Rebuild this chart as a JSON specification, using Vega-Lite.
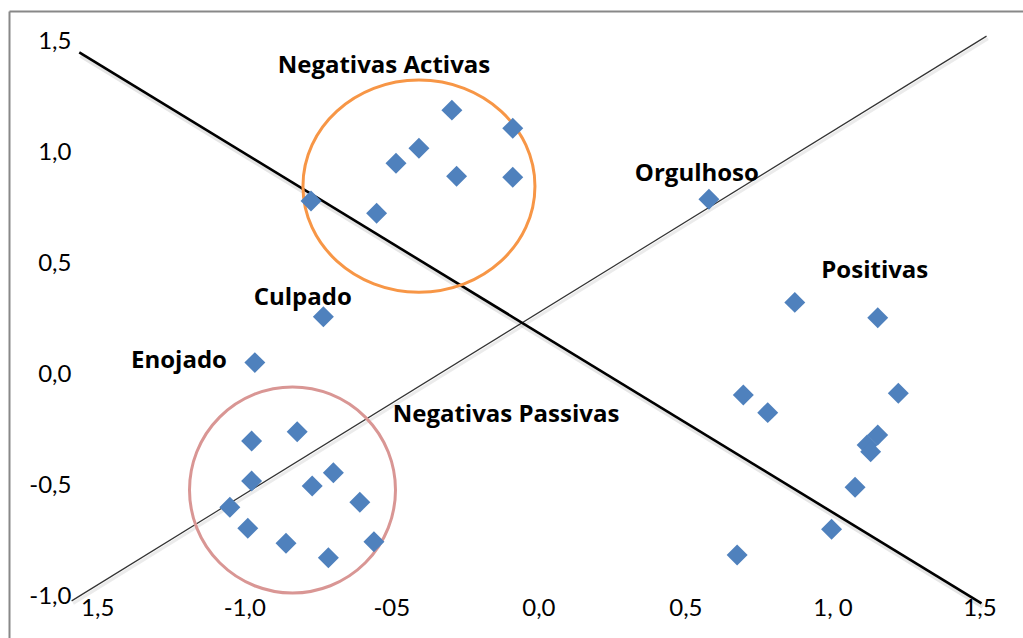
{
  "$schema": "https://vega.github.io/schema/vega-lite/v6.json",
  "width": 1014,
  "height": 627,
  "autosize": {"type": "none"},
  "padding": {"left": 9, "top": 11, "right": 0, "bottom": 0},
  "background": "white",
  "view": {"stroke": null},
  "datasets": {
    "points": [
      {"grupo": "Negativas Activas", "x": -0.294, "y": 1.190},
      {"grupo": "Negativas Activas", "x": -0.087, "y": 1.108},
      {"grupo": "Negativas Activas", "x": -0.406, "y": 1.018},
      {"grupo": "Negativas Activas", "x": -0.484, "y": 0.951},
      {"grupo": "Negativas Activas", "x": -0.278, "y": 0.893},
      {"grupo": "Negativas Activas", "x": -0.087, "y": 0.888},
      {"grupo": "Negativas Activas", "x": -0.773, "y": 0.781},
      {"grupo": "Negativas Activas", "x": -0.550, "y": 0.726},
      {"grupo": "Culpado", "x": -0.731, "y": 0.260},
      {"grupo": "Enojado", "x": -0.964, "y": 0.054},
      {"grupo": "Orgulhoso", "x": 0.580, "y": 0.789},
      {"grupo": "Negativas Passivas", "x": -0.975, "y": -0.299},
      {"grupo": "Negativas Passivas", "x": -0.820, "y": -0.257},
      {"grupo": "Negativas Passivas", "x": -0.975, "y": -0.479},
      {"grupo": "Negativas Passivas", "x": -0.697, "y": -0.441},
      {"grupo": "Negativas Passivas", "x": -0.769, "y": -0.501},
      {"grupo": "Negativas Passivas", "x": -1.049, "y": -0.597},
      {"grupo": "Negativas Passivas", "x": -0.607, "y": -0.574},
      {"grupo": "Negativas Passivas", "x": -0.988, "y": -0.691},
      {"grupo": "Negativas Passivas", "x": -0.858, "y": -0.759},
      {"grupo": "Negativas Passivas", "x": -0.714, "y": -0.824},
      {"grupo": "Negativas Passivas", "x": -0.559, "y": -0.752},
      {"grupo": "Positivas", "x": 0.872, "y": 0.325},
      {"grupo": "Positivas", "x": 1.154, "y": 0.256},
      {"grupo": "Positivas", "x": 0.697, "y": -0.092},
      {"grupo": "Positivas", "x": 1.224, "y": -0.084},
      {"grupo": "Positivas", "x": 0.780, "y": -0.171},
      {"grupo": "Positivas", "x": 1.154, "y": -0.272},
      {"grupo": "Positivas", "x": 1.118, "y": -0.317},
      {"grupo": "Positivas", "x": 1.130, "y": -0.347},
      {"grupo": "Positivas", "x": 1.077, "y": -0.507},
      {"grupo": "Positivas", "x": 0.997, "y": -0.696},
      {"grupo": "Positivas", "x": 0.676, "y": -0.812}
    ],
    "thick": [
      {"x": -1.561, "y": 1.450},
      {"x": 1.507, "y": -1.029}
    ],
    "thin": [
      {"x": -1.587, "y": -1.018},
      {"x": 1.524, "y": 1.523}
    ],
    "circles": [
      {"nombre": "activas", "x": -0.406, "y": 0.848},
      {"nombre": "passivas", "x": -0.836, "y": -0.519}
    ],
    "labels": [
      {"texto": "Negativas Activas", "x": -0.525, "y": 1.357},
      {"texto": "Orgulhoso", "x": 0.539, "y": 0.871},
      {"texto": "Positivas", "x": 1.144, "y": 0.435},
      {"texto": "Culpado", "x": -0.801, "y": 0.313},
      {"texto": "Enojado", "x": -1.222, "y": 0.030},
      {"texto": "Negativas Passivas", "x": -0.110, "y": -0.213}
    ]
  },
  "resolve": {"axis": {"x": "independent"}},
  "layer": [
    {
      "data": {"name": "thin"},
      "mark": {"type": "line", "color": "#000000", "strokeWidth": 3, "opacity": 0.08, "xOffset": 1.5, "yOffset": 2.5},
      "encoding": {
        "x": {
          "field": "x", "type": "quantitative",
          "scale": {"domain": [-1.8, 1.648], "nice": false, "zero": false},
          "axis": {
            "orient": "top", "title": null, "labels": false, "ticks": false, "grid": false,
            "domain": true, "domainColor": "#888888", "domainWidth": 2
          }
        },
        "y": {
          "field": "y", "type": "quantitative",
          "scale": {"domain": [-1.185, 1.636], "nice": false, "zero": false},
          "axis": {
            "orient": "left", "title": null, "ticks": false, "tickSize": 0, "grid": false,
            "domain": true, "domainColor": "#888888", "domainWidth": 2,
            "values": [-1, -0.5, 0, 0.5, 1, 1.5],
            "labelExpr": "['-1,0','-0,5','0,0','0,5','1,0','1,5'][round((datum.value+1)*2)]",
            "labelPadding": -62, "labelAlign": "right", "labelBaseline": "middle",
            "labelFont": "Lato", "labelFontSize": 24, "labelColor": "#000000"
          }
        }
      }
    },
    {
      "data": {"name": "thick"},
      "mark": {"type": "line", "color": "#000000", "strokeWidth": 5, "opacity": 0.1, "xOffset": 1.5, "yOffset": 3},
      "encoding": {
        "x": {"field": "x", "type": "quantitative", "axis": null},
        "y": {"field": "y", "type": "quantitative"}
      }
    },
    {
      "data": {"name": "thin"},
      "mark": {"type": "line", "color": "#333333", "strokeWidth": 1.2},
      "encoding": {
        "x": {"field": "x", "type": "quantitative", "axis": null},
        "y": {"field": "y", "type": "quantitative"}
      }
    },
    {
      "data": {"name": "thick"},
      "mark": {"type": "line", "color": "#000000", "strokeWidth": 2.6},
      "encoding": {
        "x": {"field": "x", "type": "quantitative", "axis": null},
        "y": {"field": "y", "type": "quantitative"}
      }
    },
    {
      "data": {"name": "circles"},
      "transform": [{"filter": "datum.nombre == 'activas'"}],
      "mark": {
        "type": "point", "shape": "M-1,0A1,0.914,0,1,1,1,0A1,0.914,0,1,1,-1,0Z",
        "filled": false, "size": 53824, "stroke": "#F79646", "strokeWidth": 3, "opacity": 1
      },
      "encoding": {
        "x": {"field": "x", "type": "quantitative", "axis": null},
        "y": {"field": "y", "type": "quantitative"}
      }
    },
    {
      "data": {"name": "circles"},
      "transform": [{"filter": "datum.nombre == 'passivas'"}],
      "mark": {
        "type": "point", "shape": "circle",
        "filled": false, "size": 42436, "stroke": "#D99694", "strokeWidth": 3, "opacity": 1
      },
      "encoding": {
        "x": {"field": "x", "type": "quantitative", "axis": null},
        "y": {"field": "y", "type": "quantitative"}
      }
    },
    {
      "data": {"name": "points"},
      "mark": {"type": "point", "shape": "diamond", "filled": true, "size": 440, "color": "#4F81BD", "opacity": 1, "strokeWidth": 0},
      "encoding": {
        "x": {
          "field": "x", "type": "quantitative",
          "axis": {
            "orient": "bottom", "offset": -30, "title": null, "domain": false, "ticks": false, "grid": false,
            "values": [-1.5, -1, -0.5, 0, 0.5, 1, 1.5],
            "labelExpr": "['1,5','-1,0','-05','0,0','0,5','1, 0','1,5'][round((datum.value+1.5)*2)]",
            "labelPadding": 0, "labelBaseline": "middle",
            "labelFont": "Lato", "labelFontSize": 24, "labelColor": "#000000"
          }
        },
        "y": {"field": "y", "type": "quantitative"}
      }
    },
    {
      "data": {"name": "labels"},
      "mark": {"type": "text", "font": "Open Sans", "fontWeight": "bold", "fontSize": 24, "align": "center", "baseline": "alphabetic", "color": "#000000"},
      "encoding": {
        "x": {"field": "x", "type": "quantitative", "axis": null},
        "y": {"field": "y", "type": "quantitative"},
        "text": {"field": "texto"}
      }
    }
  ]
}
